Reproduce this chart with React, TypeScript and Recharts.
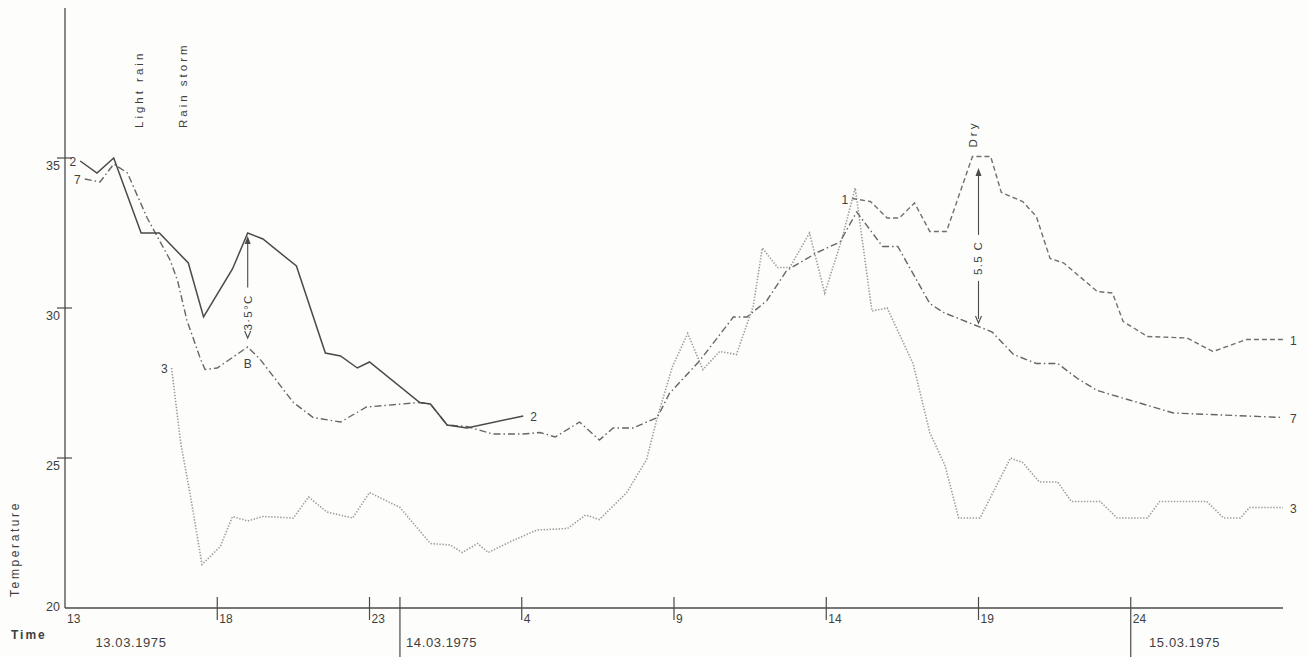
import { LineChart, Line, XAxis, YAxis, ReferenceLine, ReferenceDot, Label } from "recharts"

// time axis = hours elapsed since 13:00 on 13.03.1975
const s2Hours = [0.5, 1.05, 1.6, 2.5, 3.1, 4.05, 4.55, 5.5, 6.0, 6.5, 7.6, 8.55, 9.05, 9.6, 10.0, 11.65, 12.0, 12.55, 13.2, 15.05]
const s2Temps = [34.9, 34.5, 35.0, 32.5, 32.5, 31.5, 29.7, 31.3, 32.5, 32.3, 31.4, 28.5, 28.4, 28.0, 28.2, 26.85, 26.8, 26.1, 26.0, 26.4]

const s7Hours = [
  0.65, 1.15, 1.6, 2.05, 2.7, 3.45, 3.7, 4.0, 4.45, 4.6, 5.0, 6.0, 6.4, 7.5, 8.15, 9.05, 9.9, 11.65, 12.0, 12.55,
  13.2, 14.05, 15.05, 15.6, 16.1, 16.9, 17.55, 18.0, 18.65, 19.45, 19.85, 20.85, 21.95, 22.4, 23.05, 23.7, 24.7,
  25.45, 26.0, 26.85, 27.35, 28.4, 28.85, 30.45, 31.15, 31.9, 32.6, 33.25, 33.9, 34.9, 36.4, 40.0,
]
const s7Temps = [
  34.3, 34.2, 34.8, 34.5, 33.0, 31.6, 30.9, 29.6, 28.3, 27.95, 28.0, 28.7, 28.3, 26.85, 26.35, 26.2, 26.7, 26.85, 26.8, 26.1,
  26.05, 25.8, 25.8, 25.85, 25.7, 26.2, 25.6, 26.0, 26.0, 26.35, 27.15, 28.25, 29.7, 29.7, 30.25, 31.25, 31.85,
  32.2, 33.2, 32.05, 32.05, 30.15, 29.85, 29.2, 28.45, 28.15, 28.15, 27.65, 27.25, 26.95, 26.5, 26.35,
]

const s1Hours = [25.85, 26.45, 27.0, 27.4, 27.9, 28.4, 28.95, 29.8, 30.4, 30.75, 31.45, 31.9, 32.35, 32.8, 33.9, 34.4, 34.75, 35.55, 36.85, 37.7, 38.8, 40.0]
const s1Temps = [33.65, 33.55, 33.0, 33.0, 33.5, 32.55, 32.55, 35.05, 35.05, 33.85, 33.55, 33.05, 31.65, 31.5, 30.55, 30.5, 29.55, 29.05, 29.0, 28.55, 28.95, 28.95]

const s3Hours = [
  3.5, 3.8, 4.1, 4.5, 5.1, 5.5, 6.0, 6.5, 7.5, 8.0, 8.6, 9.45, 10.0, 11.0, 12.0, 12.65, 13.05, 13.55, 13.9, 14.6,
  15.5, 16.5, 17.1, 17.55, 18.45, 19.1, 19.45, 19.95, 20.45, 20.95, 21.5, 22.05, 22.6, 22.9, 23.4, 23.8, 24.45,
  24.95, 25.5, 25.95, 26.5, 27.0, 27.85, 28.4, 28.9, 29.35, 30.05, 31.05, 31.45, 32.0, 32.6, 33.05, 34.0, 34.55,
  35.55, 35.95, 37.5, 38.05, 38.6, 38.9, 40.0,
]
const s3Temps = [
  28.0, 25.5, 23.85, 21.45, 22.05, 23.05, 22.9, 23.05, 23.0, 23.7, 23.2, 23.0, 23.85, 23.35, 22.15, 22.1, 21.85, 22.15, 21.85, 22.2,
  22.6, 22.65, 23.1, 22.95, 23.85, 24.95, 26.35, 28.05, 29.15, 27.95, 28.55, 28.45, 30.05, 32.0, 31.35, 31.35, 32.5,
  30.5, 32.25, 34.0, 29.9, 30.0, 28.15, 25.85, 24.75, 23.0, 23.0, 25.0, 24.85, 24.2, 24.2, 23.55, 23.55, 23.0,
  23.0, 23.55, 23.55, 23.0, 23.0, 23.35, 23.35,
]

const hourTicks = [0, 5, 10, 11, 15, 20, 25, 30, 35]
const hourTickLabels = ["13", "18", "23", "", "4", "9", "14", "19", "24"]
const dayBreaks = [11, 35]
const dayCaptionHours = [1, 11.2, 35.6]
const dayCaptions = ["13.03.1975", "14.03.1975", "15.03.1975"]
const tempTicks = [20, 25, 30, 35]

// weather notes along the top (hour, temperature level of the text foot)
const eventHours = [2.56, 4.0, 29.95]
const eventLevels = [36.0, 36.0, 35.35]
const eventNotes = ["Light rain", "Rain storm", "Dry"]

const INK = "#3f3f3f"
const AXIS = "#4a4a4a"
const FONT = "'Liberation Sans', Arial, sans-serif"

const toPoints = (hours: number[], temps: number[]) => hours.map((h, i) => ({ h, t: temps[i] }))

const s2 = toPoints(s2Hours, s2Temps)
const s7 = toPoints(s7Hours, s7Temps)
const s1 = toPoints(s1Hours, s1Temps)
const s3 = toPoints(s3Hours, s3Temps)

// series number at both ends of each curve
const endLabel = (name: string, count: number) => (props: any) => {
  const { x, y, index } = props
  if (index === 0) {
    return (
      <text x={x - 4} y={y + 5} textAnchor="end" fontSize={12} fill={INK} fontFamily={FONT}>
        {name}
      </text>
    )
  }
  if (index === count - 1) {
    return (
      <text x={x + 7} y={y + 5} textAnchor="start" fontSize={12} fill={INK} fontFamily={FONT}>
        {name}
      </text>
    )
  }
  return <g />
}

function TimeTick({ x, y, payload }: any) {
  const v = payload.value
  const cap = dayCaptionHours.indexOf(v)
  if (cap >= 0) {
    return (
      <text x={x} y={y + 39} fontSize={13} letterSpacing={0.6} fill={INK} fontFamily={FONT}>
        {dayCaptions[cap]}
      </text>
    )
  }
  const i = hourTicks.indexOf(v)
  const isBreak = dayBreaks.includes(v)
  return (
    <g>
      {v > 0 && (
        <line x1={x} x2={x} y1={y - 11} y2={isBreak ? y + 49 : y + 12} stroke={AXIS} strokeWidth={1.2} />
      )}
      {hourTickLabels[i] && (
        <text x={x + 2} y={y + 15} fontSize={12} fill={INK} fontFamily={FONT}>
          {hourTickLabels[i]}
        </text>
      )}
    </g>
  )
}

function TempTick({ x, y, payload }: any) {
  const v = payload.value
  return (
    <g>
      {v > 20 && <line x1={x - 8} x2={x + 7} y1={y} y2={y} stroke={AXIS} strokeWidth={1.2} />}
      <text x={x - 5} y={v === 20 ? y + 3 : y + 12} textAnchor="end" fontSize={12.5} fill={INK} fontFamily={FONT}>
        {v}
      </text>
    </g>
  )
}

// vertical double arrow with a rotated caption
const diffArrow = (caption: string, textAt: number, half: number, topInset: number, foot?: string) => (p: any) => {
  const x = p.x1
  const top = Math.min(p.y1, p.y2) + topInset
  const bottom = Math.max(p.y1, p.y2)
  const ty = top + (bottom - top) * textAt
  return (
    <g>
      <path d={`M${x},${top} L${x - 3},${top + 8} L${x + 3},${top + 8} Z`} fill={AXIS} />
      <line x1={x} x2={x} y1={top + 6} y2={ty - half - 2} stroke={AXIS} strokeWidth={1.1} />
      {bottom - (ty + half + 2) > 4 && (
        <line x1={x} x2={x} y1={ty + half + 2} y2={bottom - 4} stroke={AXIS} strokeWidth={1.1} />
      )}
      <path d={`M${x - 3},${bottom - 7} L${x},${bottom} L${x + 3},${bottom - 7}`} fill="none" stroke={AXIS} strokeWidth={1.1} />
      <text
        x={x}
        y={ty}
        transform={`rotate(-90 ${x} ${ty})`}
        textAnchor="middle"
        dominantBaseline="central"
        fontSize={11.5}
        letterSpacing={1.3}
        fill={INK}
        fontFamily={FONT}
      >
        {caption}
      </text>
      {foot && (
        <text x={x} y={bottom + 30} textAnchor="middle" fontSize={12} fill={INK} fontFamily={FONT}>
          {foot}
        </text>
      )}
    </g>
  )
}

const eventNote = (note: string) => (p: any) => (
  <text
    x={p.cx}
    y={p.cy}
    transform={`rotate(-90 ${p.cx} ${p.cy})`}
    fontSize={11.5}
    letterSpacing={3}
    fill={INK}
    fontFamily={FONT}
  >
    {note}
  </text>
)

export default function App() {
  return (
    <div style={{ position: "absolute", left: 0, top: 0, width: 1308, height: 657, background: "#fdfdfb" }}>
      <LineChart width={1308} height={657} margin={{ top: 8, right: 25, bottom: 19, left: 5 }}>
        <XAxis
          type="number"
          dataKey="h"
          domain={[0, 40]}
          ticks={[...hourTicks, ...dayCaptionHours]}
          interval={0}
          tick={<TimeTick />}
          tickLine={false}
          tickSize={0}
          tickMargin={0}
          height={30}
          axisLine={{ stroke: AXIS, strokeWidth: 1.3 }}
        >
          <Label
            content={() => (
              <text x={11} y={639} fontSize={12} fontWeight="bold" letterSpacing={2} fill={INK} fontFamily={FONT}>
                Time
              </text>
            )}
          />
        </XAxis>
        <YAxis
          type="number"
          domain={[20, 40]}
          ticks={tempTicks}
          interval={0}
          tick={<TempTick />}
          tickLine={false}
          tickSize={0}
          tickMargin={0}
          width={60}
          axisLine={{ stroke: AXIS, strokeWidth: 1.3 }}
        >
          <Label
            content={() => (
              <text
                x={15}
                y={549}
                transform="rotate(-90 15 549)"
                textAnchor="middle"
                dominantBaseline="central"
                fontSize={12}
                letterSpacing={2.6}
                fill={INK}
                fontFamily={FONT}
              >
                Temperature
              </text>
            )}
          />
        </YAxis>

        {eventNotes.map((note, i) => (
          <ReferenceDot key={note} x={eventHours[i]} y={eventLevels[i]} r={0} shape={eventNote(note)} />
        ))}

        <ReferenceLine
          segment={[{ x: 6, y: 32.5 }, { x: 6, y: 29.0 }]}
          shape={diffArrow("3·5°C", 0.75, 23, 3, "B")}
        />
        <ReferenceLine
          segment={[{ x: 30, y: 35.0 }, { x: 30, y: 29.5 }]}
          shape={diffArrow("5.5 C", 0.58, 21, 10)}
        />

        <Line
          data={s3}
          dataKey="t"
          stroke="#9c9c9c"
          strokeWidth={1.6}
          strokeDasharray="1.4 1.6"
          dot={false}
          type="linear"
          isAnimationActive={false}
          label={endLabel("3", s3.length)}
        />
        <Line
          data={s1}
          dataKey="t"
          stroke="#707070"
          strokeWidth={1.4}
          strokeDasharray="5 3"
          dot={false}
          type="linear"
          isAnimationActive={false}
          label={endLabel("1", s1.length)}
        />
        <Line
          data={s7}
          dataKey="t"
          stroke="#666666"
          strokeWidth={1.4}
          strokeDasharray="7 3 1.5 3"
          dot={false}
          type="linear"
          isAnimationActive={false}
          label={endLabel("7", s7.length)}
        />
        <Line
          data={s2}
          dataKey="t"
          stroke="#4a4a4a"
          strokeWidth={1.5}
          dot={false}
          type="linear"
          isAnimationActive={false}
          label={endLabel("2", s2.length)}
        />
      </LineChart>
    </div>
  )
}
